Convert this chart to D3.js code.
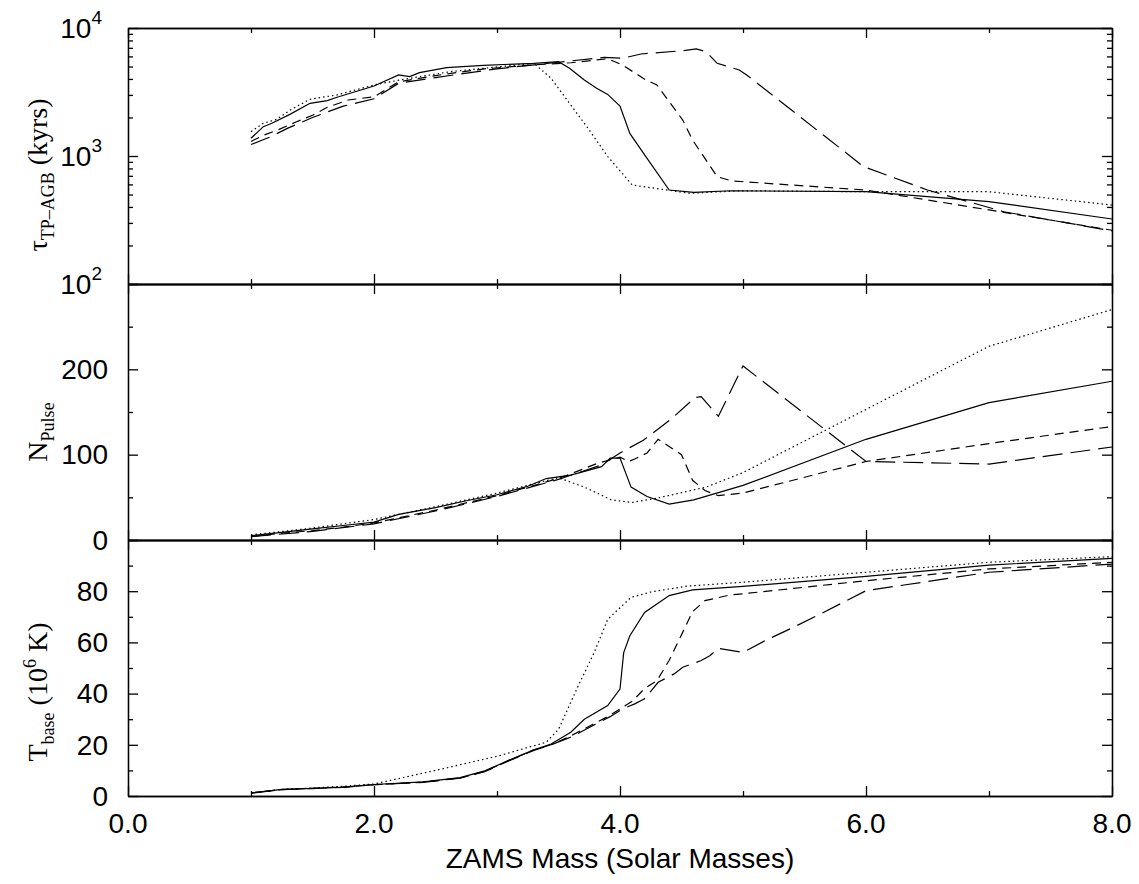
<!DOCTYPE html>
<html>
<head>
<meta charset="utf-8">
<script src="https://cdn.jsdelivr.net/npm/d3@7"></script>
<style>
  body { margin: 0; background: #fff; }
  svg { display: block; }
</style>
</head>
<body>
<div id="vis"></div>
<script>
// ZAMS mass (x) vs value, one array per model line, per panel
// Panel 1: TP-AGB lifetime (kyrs)
const tauSolid = [[1.0,1375],[1.1,1695],[1.17,1800],[1.32,2125],[1.48,2580],[1.62,2705],[1.7,2875],[2.0,3525],[2.2,4300],[2.29,4170],[2.37,4480],[2.59,4900],[2.89,5110],[3.3,5300],[3.5,5460],[3.59,4840],[3.71,3925],[3.81,3380],[3.9,3030],[4.0,2455],[4.08,1500],[4.21,990],[4.4,542],[4.6,520],[4.9,535],[6.0,526],[7.0,440],[8.0,322]];
const tauDotted = [[1.0,1550],[1.1,1800],[1.21,1935],[1.32,2290],[1.48,2775],[1.7,3000],[2.0,3590],[2.21,3925],[2.62,4560],[2.89,4840],[3.3,5300],[3.44,4045],[3.75,1595],[3.9,990],[4.1,593],[4.57,511],[4.97,535],[6.0,526],[7.0,526],[8.0,414]];
const tauShort = [[1.0,1300],[1.1,1450],[1.22,1600],[1.37,1850],[1.5,2080],[1.62,2400],[1.79,2740],[2.0,2900],[2.2,3800],[2.5,4250],[2.9,4800],[3.3,5150],[3.6,5350],[3.9,5750],[4.02,5140],[4.21,3925],[4.3,3590],[4.51,1910],[4.59,1333],[4.79,689],[4.91,638],[6.0,542],[7.0,379],[8.0,263]];
const tauLong = [[1.0,1230],[1.15,1400],[1.3,1650],[1.5,2000],[1.75,2450],[2.0,2800],[2.2,3700],[2.5,4100],[3.0,4800],[3.5,5400],[3.87,5890],[4.02,5800],[4.17,6265],[4.51,6650],[4.62,6860],[4.7,6530],[4.79,5300],[4.97,4700],[5.03,4300],[5.98,826],[6.5,542],[7.12,367],[8.0,260]];

// Panel 2: number of thermal pulses
const nSolid = [[1.0,5],[1.25,9],[1.5,13],[1.75,17],[2.0,21],[2.2,30],[2.5,38],[2.75,46],[3.0,53],[3.25,63],[3.4,72],[3.6,76],[3.85,86],[3.92,96],[4.0,96],[4.09,62],[4.22,51],[4.4,42],[4.6,47],[5.0,64],[6.0,118],[7.0,161],[8.0,186]];
const nDotted = [[1.0,6],[1.25,10],[1.5,14],[1.75,19],[2.0,24],[2.5,39],[3.0,55],[3.3,66],[3.5,73],[3.71,62],[3.93,47],[4.1,44],[4.3,49],[4.7,62],[5.0,79],[6.0,153],[7.0,227],[8.0,270]];
const nShort = [[1.0,4],[1.25,8],[1.5,11],[1.75,15],[2.0,20],[2.5,35],[3.0,52],[3.5,72],[3.82,90],[4.0,97],[4.07,92],[4.12,95],[4.22,102],[4.31,118],[4.5,100],[4.59,70],[4.69,58],[4.8,52],[5.0,55],[6.0,92],[7.0,113],[8.0,133]];
const nLong = [[1.0,4],[1.5,10],[2.0,19],[2.5,34],[3.0,51],[3.5,71],[3.85,88],[4.0,102],[4.19,117],[4.41,141],[4.61,167],[4.66,168],[4.8,145],[5.0,204],[6.0,92],[7.0,89],[8.0,109]];

// Panel 3: temperature at base of convective envelope (10^6 K)
const tSolid = [[1.0,1.2],[1.25,2.6],[1.5,3.0],[1.75,3.5],[2.0,4.5],[2.4,5.5],[2.7,7.2],[2.9,9.8],[3.1,14],[3.3,18],[3.44,20.3],[3.6,24.9],[3.71,30],[3.9,35.3],[4.0,41.8],[4.03,56],[4.08,62.6],[4.2,71.7],[4.4,78.3],[4.59,80.5],[5.0,81.9],[6.0,85.8],[7.0,90.2],[8.0,92.8]];
const tDotted = [[1.0,1.2],[1.25,2.6],[1.5,3.1],[1.75,3.8],[2.0,4.7],[2.5,10],[3.0,15.5],[3.4,21],[3.5,26],[3.66,43],[3.79,56],[3.9,69],[4.09,77.6],[4.26,79.8],[4.55,82],[5.0,83.5],[6.0,87.4],[7.0,91.3],[8.0,93.5]];
const tShort = [[1.0,1.2],[1.25,2.5],[1.5,3.0],[1.75,3.5],[2.0,4.4],[2.4,5.4],[2.7,7.0],[2.9,9.6],[3.1,14],[3.3,18],[3.44,20],[3.6,23.5],[3.8,28.5],[3.9,31],[4.0,34],[4.1,37],[4.2,42],[4.3,45],[4.4,53],[4.5,63],[4.59,72],[4.69,76.3],[4.89,78.5],[5.0,79],[6.0,84.1],[7.0,88.7],[8.0,91.3]];
const tLong = [[1.0,1.1],[1.25,2.5],[1.5,2.9],[1.75,3.4],[2.0,4.4],[2.4,5.3],[2.7,7.0],[2.9,9.5],[3.1,13.8],[3.3,17.8],[3.44,20],[3.6,23],[3.8,28],[3.92,31],[4.02,34],[4.12,36],[4.2,38],[4.31,44.4],[4.44,47.7],[4.51,50.3],[4.66,52.9],[4.73,54.8],[4.8,57.7],[5.0,56.1],[5.18,60.7],[5.41,65.9],[5.63,71.1],[6.0,80.2],[7.0,87.4],[8.0,90.6]];

// tick values
const xMajor = [0, 2, 4, 6, 8];
const xMinor = [1, 3, 5, 7];
const xTickLabels = ["0.0", "2.0", "4.0", "6.0", "8.0"];
const tauMajor = [100, 1000, 10000];
const tauMinor = [200,300,400,500,600,700,800,900,2000,3000,4000,5000,6000,7000,8000,9000];
const nMajor = [0, 100, 200, 300];
const nMinor = [50, 150, 250];
const nLabels = [0, 100, 200];
const tMajor = [0, 20, 40, 60, 80, 100];
const tMinor = [10, 30, 50, 70, 90];
const tLabels = [0, 20, 40, 60, 80];

const width = 1139, height = 884;
const left = 128, right = 1112;
const sansFont = "'Liberation Sans', Arial, Helvetica, sans-serif";
const serifFont = "'Liberation Serif', 'Times New Roman', serif";

const svg = d3.select("#vis").append("svg")
  .attr("width", width)
  .attr("height", height);

const x = d3.scaleLinear().domain([0, 8]).range([left, right]);
const yTau = d3.scaleLog().domain([100, 10000]).range([284, 28]);
const yN = d3.scaleLinear().domain([0, 300]).range([540, 284]);
const yT = d3.scaleLinear().domain([0, 100]).range([796, 540]);

// frame + inward ticks on all four sides of a panel
function drawFrame(y, major, minor) {
  const [bottom, top] = y.range();
  const g = svg.append("g");
  const ax = [
    [d3.axisLeft, `translate(${left},0)`, y, major, 10],
    [d3.axisLeft, `translate(${left},0)`, y, minor, 5],
    [d3.axisRight, `translate(${right},0)`, y, major, 10],
    [d3.axisRight, `translate(${right},0)`, y, minor, 5],
    [d3.axisTop, `translate(0,${top})`, x, xMajor, 10],
    [d3.axisTop, `translate(0,${top})`, x, xMinor, 5],
    [d3.axisBottom, `translate(0,${bottom})`, x, xMajor, 10],
    [d3.axisBottom, `translate(0,${bottom})`, x, xMinor, 5]
  ];
  ax.forEach(([fn, tr, sc, vals, len]) => {
    const a = g.append("g")
      .attr("transform", tr)
      .call(fn(sc).tickValues(vals).tickSize(-len).tickSizeOuter(0).tickFormat(""));
    a.selectAll("path, line").attr("stroke", "#000").attr("stroke-width", 1.3);
  });
}

drawFrame(yTau, tauMajor, tauMinor);
drawFrame(yN, nMajor, nMinor);
drawFrame(yT, tMajor, tMinor);

// y tick labels
const labels = svg.append("g")
  .attr("font-family", sansFont)
  .attr("font-size", 28)
  .attr("fill", "#000");

tauMajor.forEach(v => {
  const t = labels.append("text")
    .attr("x", 102)
    .attr("y", yTau(v))
    .attr("dy", "0.35em")
    .attr("text-anchor", "end");
  t.append("tspan").text("10");
  t.append("tspan").attr("font-size", 19).attr("dy", "-0.75em").text(Math.log10(v));
});

nLabels.forEach(v => {
  labels.append("text")
    .attr("x", 108).attr("y", yN(v)).attr("dy", "0.35em")
    .attr("text-anchor", "end").text(v);
});

tLabels.forEach(v => {
  labels.append("text")
    .attr("x", 108).attr("y", yT(v)).attr("dy", "0.35em")
    .attr("text-anchor", "end").text(v);
});

// x tick labels
xMajor.forEach((v, i) => {
  labels.append("text")
    .attr("x", x(v)).attr("y", 833)
    .attr("text-anchor", "middle").text(xTickLabels[i]);
});

labels.append("text")
  .attr("x", (left + right) / 2).attr("y", 868)
  .attr("text-anchor", "middle")
  .text("ZAMS Mass (Solar Masses)");

// y axis titles (serif, rotated)
function yTitle(cy, parts) {
  const t = svg.append("text")
    .attr("transform", `translate(47,${cy}) rotate(-90)`)
    .attr("text-anchor", "middle")
    .attr("font-family", serifFont)
    .attr("font-size", 28)
    .attr("fill", "#000");
  parts.forEach(p => {
    const s = t.append("tspan").text(p.text);
    if (p.size) s.attr("font-size", p.size);
    if (p.dy) s.attr("dy", p.dy);
  });
}

yTitle(175, [
  { text: "\u03c4" },
  { text: "TP\u2013AGB", size: 18, dy: 7 },
  { text: " (kyrs)", dy: -7 }
]);
yTitle(432, [
  { text: "N" },
  { text: "Pulse", size: 18, dy: 7 }
]);
yTitle(692, [
  { text: "T" },
  { text: "base", size: 18, dy: 7 },
  { text: " (10", dy: -7 },
  { text: "6", size: 18, dy: -11 },
  { text: " K)", dy: 11 }
]);

// model lines
const dashes = { solid: null, dotted: "1.5,3", short: "9,6", long: "20,8" };

const panels = [
  { y: yTau, series: [[tauSolid, "solid"], [tauDotted, "dotted"], [tauShort, "short"], [tauLong, "long"]] },
  { y: yN, series: [[nSolid, "solid"], [nDotted, "dotted"], [nShort, "short"], [nLong, "long"]] },
  { y: yT, series: [[tSolid, "solid"], [tDotted, "dotted"], [tShort, "short"], [tLong, "long"]] }
];

panels.forEach(p => {
  const line = d3.line()
    .x(d => x(d[0]))
    .y(d => p.y(d[1]));
  p.series.forEach(([data, style]) => {
    svg.append("path")
      .datum(data)
      .attr("fill", "none")
      .attr("stroke", "#000")
      .attr("stroke-width", 1.2)
      .attr("stroke-dasharray", dashes[style])
      .attr("d", line);
  });
});
</script>
</body>
</html>
